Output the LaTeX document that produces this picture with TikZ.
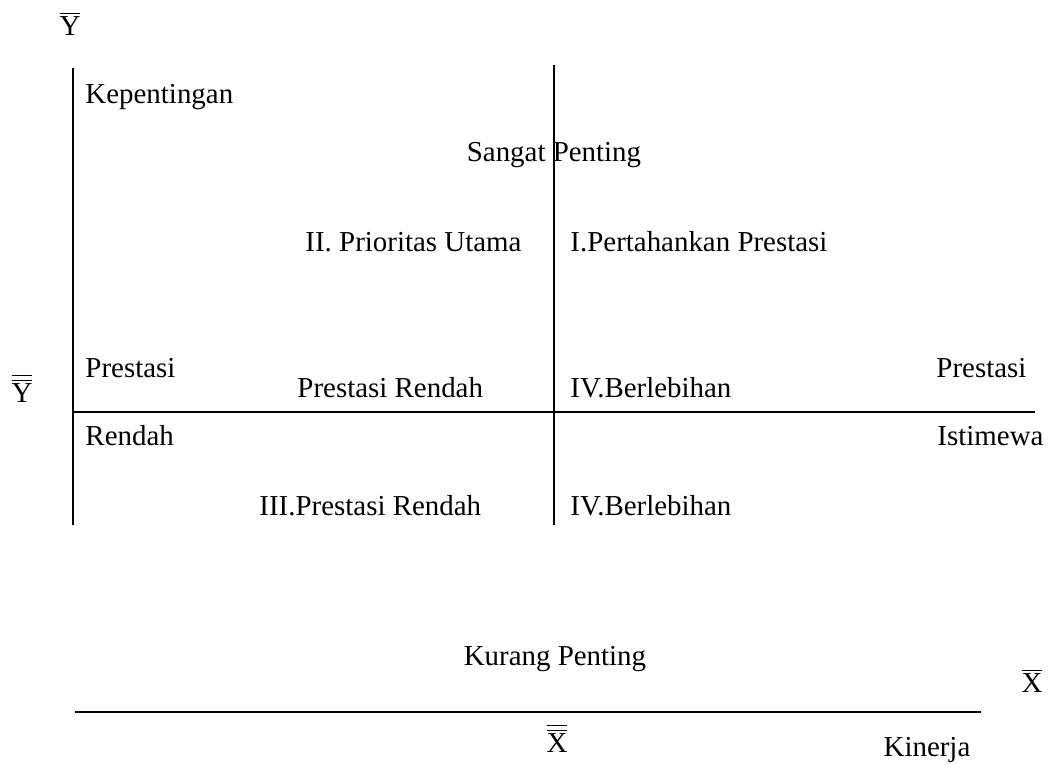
\documentclass[tikz,border=0pt]{standalone}
\usepackage{fontspec}
\setmainfont{Liberation Serif}
\newcommand{\lab}[3]{\node[anchor=base west] (#1) at (#2) {#3}}
\newcommand{\clab}[3]{\node[anchor=base] (#1) at (#2) {#3}}
\newcommand{\sbar}[1]{$\overline{\mbox{#1}}$}
\newcommand{\dbar}[1]{$\overline{\overline{\mbox{#1}}}$}
\begin{document}
\begin{tikzpicture}[x=0.415pt,y=-0.415pt,inner sep=0pt,font=\fontsize{12}{14}\selectfont]
\useasboundingbox (0,0) rectangle (1050,765);
%Axes
	\coordinate (ltop) at (73,68);
	\coordinate (lbot) at (73,525);
	\coordinate (mtop) at (554,65);
	\coordinate (mbot) at (554,525);
	\coordinate (hl) at (73,412);
	\coordinate (hr) at (1035,412);
	\coordinate (bl) at (75,712);
	\coordinate (br) at (981,712);
	\draw[line width=0.6pt] (ltop) -- (lbot);
	\draw[line width=0.6pt] (mtop) -- (mbot);
	\draw[line width=0.8pt] (hl) -- (hr);
	\draw[line width=0.8pt] (bl) -- (br);
%Bars
	\clab{ybar}{70,36}{\sbar{Y}};
	\clab{ydbar}{22,403}{\dbar{Y}};
	\clab{xbar}{1032,693}{\sbar{X}};
	\clab{xdbar}{557,753}{\dbar{X}};
%Upper part
	\lab{kep}{85,104}{Kepentingan};
	\clab{sangat}{554,162}{Sangat Penting};
	\lab{q2}{305,252}{II. Prioritas Utama};
	\lab{q1}{570,252}{I.Pertahankan Prestasi};
%Middle
	\lab{presl}{85,378}{Prestasi};
	\lab{presr}{936,378}{Prestasi};
	\lab{prend}{297,398}{Prestasi Rendah};
	\lab{berl}{570,398}{IV.Berlebihan};
	\lab{rendah}{85,446}{Rendah};
	\lab{istim}{937,446}{Istimewa};
%Lower part
	\lab{q3}{259,516}{III.Prestasi Rendah};
	\lab{q4}{570,516}{IV.Berlebihan};
	\clab{kurang}{555,666}{Kurang Penting};
	\clab{kinerja}{927,757}{Kinerja};
\end{tikzpicture}
\end{document}
